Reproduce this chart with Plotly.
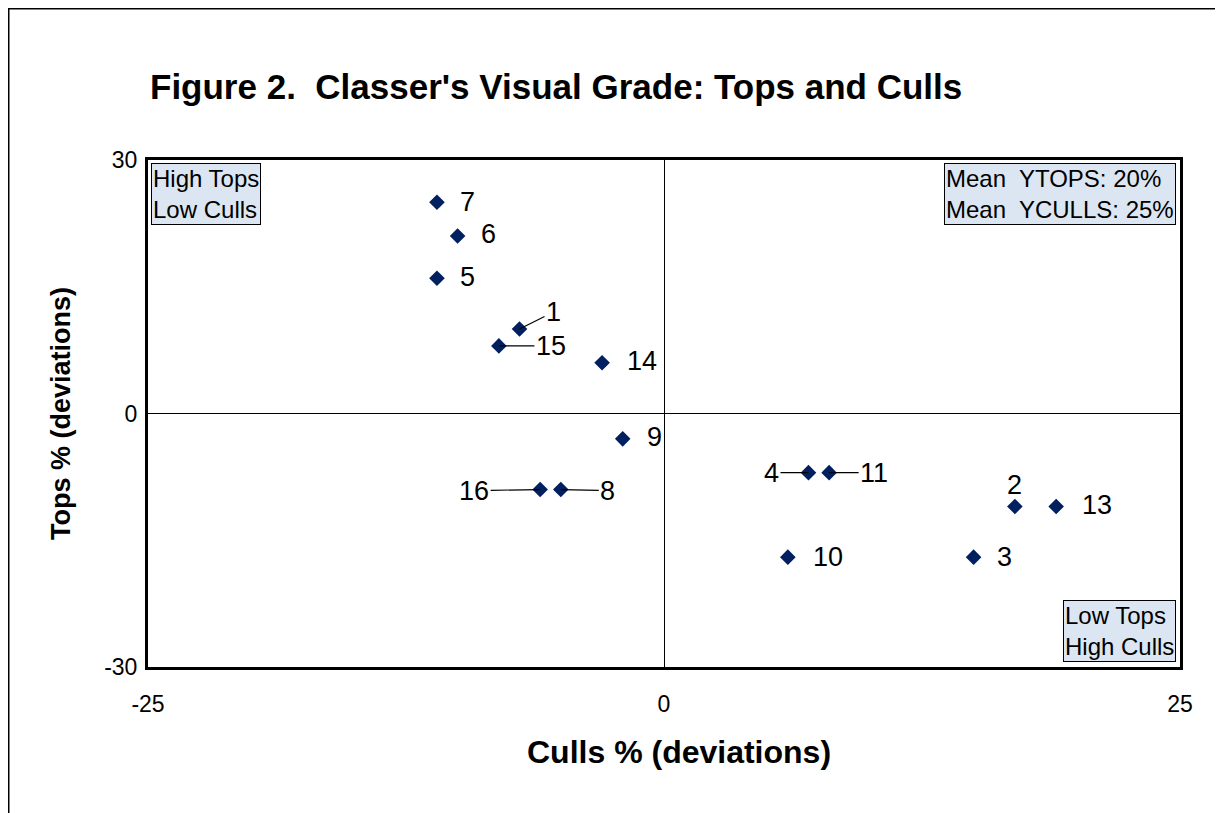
import plotly.graph_objects as go

# sample numbers and their deviations from the mean
labels = ["1", "2", "3", "4", "5", "6", "7", "8", "9", "10", "11", "13", "14", "15", "16"]
culls = [-7, 17, 15, 7, -11, -10, -11, -5, -2, 6, 8, 19, -3, -8, -6]
tops = [10, -11, -17, -7, 16, 21, 25, -9, -3, -17, -7, -11, 6, 8, -9]

x_ticks = [-25, 0, 25]
x_tick_text = ["-25", "0", "25"]
y_ticks = [-30, 0, 30]
y_tick_text = ["-30", "0", "30"]

FONT = "Arial, Liberation Sans, sans-serif"

# the page body has an 8px margin, so the figure is drawn 8px smaller
W, H = 1215, 805
L, R, T, B = 140, 43, 152, 146
PW, PH = W - L - R, H - T - B

# where each label sits relative to its point (px); lead=True draws a leader line
label_pos = {
    "1": (34, -17, True), "15": (52, 0, True), "16": (-66, 1, True),
    "8": (47, 1, True), "4": (-37, 0, True), "11": (45, 0, True),
    "7": (31, 0, False), "6": (31, -2, False), "5": (31, -1, False),
    "14": (40, -2, False), "9": (32, -2, False), "2": (0, -21, False),
    "13": (41, -1, False), "10": (40, 0, False), "3": (31, 0, False),
}

fig = go.Figure()
fig.add_trace(go.Scatter(
    x=culls, y=tops, mode="markers",
    marker=dict(symbol="diamond", size=12, color="#002060"),
    hoverinfo="skip", showlegend=False,
))

annos = []
for lab, cx, ty in zip(labels, culls, tops):
    dx, dy, lead = label_pos[lab]
    if lead:
        annos.append(dict(x=cx, y=ty, text=lab, showarrow=True, arrowhead=0,
                          arrowwidth=1.2, arrowcolor="black", ax=dx, ay=dy,
                          font=dict(size=27, color="black", family=FONT)))
    else:
        annos.append(dict(x=cx, y=ty, text=lab, showarrow=False,
                          xshift=dx, yshift=-dy,
                          font=dict(size=27, color="black", family=FONT)))

box = dict(showarrow=False, xref="paper", yref="paper", align="left",
           bgcolor="#DCE6F2", bordercolor="black", borderwidth=1, borderpad=1,
           font=dict(size=24, color="black", family=FONT))
annos.append(dict(box, x=3 / PW, y=1 - 3 / PH, xanchor="left", yanchor="top",
                  text="High Tops<br>Low Culls"))
annos.append(dict(box, x=1 - 4 / PW, y=1 - 3 / PH, xanchor="right", yanchor="top",
                  text="Mean  YTOPS: 20%<br>Mean  YCULLS: 25%"))
annos.append(dict(box, x=1 - 4 / PW, y=5 / PH, xanchor="right", yanchor="bottom",
                  text="Low Tops<br>High Culls"))

# x axis title sits a little right of the plot centre in the original
annos.append(dict(xref="paper", yref="paper", x=(671 - L) / PW, y=-85 / PH,
                  xanchor="center", yanchor="middle", showarrow=False,
                  text="<b>Culls % (deviations)</b>",
                  font=dict(size=32, color="black", family=FONT)))

fig.update_layout(
    width=W, height=H,
    margin=dict(l=L, r=R, t=T, b=B),
    paper_bgcolor="white", plot_bgcolor="white",
    font=dict(family=FONT, color="black"),
    title=dict(text="<b>Figure 2.  Classer's Visual Grade: Tops and Culls</b>",
               x=142 / W, xanchor="left", y=1 - 79 / H, yanchor="middle",
               font=dict(size=35, color="black", family=FONT)),
    annotations=annos,
    shapes=[
        # outer chart frame (runs off the page right and bottom)
        dict(type="rect", xref="paper", yref="paper",
             x0=(0 - L) / PW, x1=(W + 20 - L) / PW,
             y0=-(B + 20) / PH, y1=(T + PH) / PH,
             line=dict(color="black", width=3)),
    ],
)

fig.update_xaxes(
    range=[-25, 25], tickvals=x_ticks, ticktext=x_tick_text, ticks="",
    showgrid=False, ticklabelstandoff=14,
    zeroline=True, zerolinecolor="black", zerolinewidth=1,
    showline=True, mirror=True, linecolor="black", linewidth=3,
    tickfont=dict(size=23, family=FONT, color="black"),
)
fig.update_yaxes(
    range=[-30, 30], tickvals=y_ticks, ticktext=y_tick_text, ticks="",
    showgrid=False, ticklabelstandoff=3,
    zeroline=True, zerolinecolor="black", zerolinewidth=1,
    showline=True, mirror=True, linecolor="black", linewidth=3,
    tickfont=dict(size=23, family=FONT, color="black"),
    title=dict(text="<b>Tops % (deviations)</b>", standoff=26,
               font=dict(size=27, family=FONT, color="black")),
)

fig.write_html("out.html")
